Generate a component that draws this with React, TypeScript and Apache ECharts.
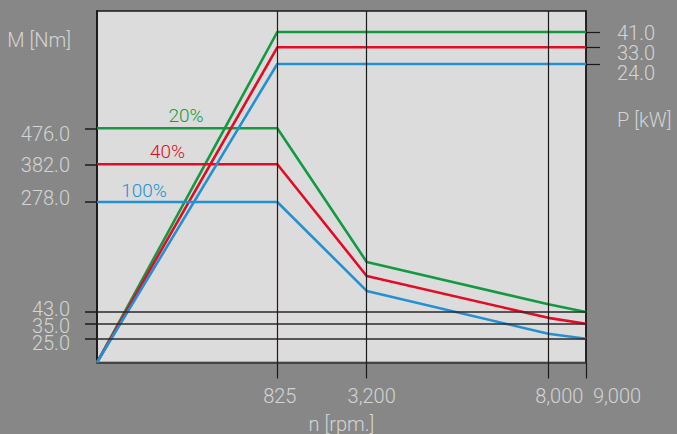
import React, { useEffect, useRef } from "react";
import * as echarts from "echarts";

// ---- data ----
const RPM = [0, 825, 3200, 8000, 9000];
const RPM_LABELS = ["0", "825", "3,200", "8,000", "9,000"];
const TORQUE_20 = [476, 476, 150, 59.5, 43];
const TORQUE_40 = [382, 382, 120, 39, 35];
const TORQUE_100 = [278, 278, 88, 28.3, 25];
const POWER_RPM = [0, 825, 9000];
const POWER_20 = [0, 41, 41];
const POWER_40 = [0, 33, 33];
const POWER_100 = [0, 24, 24];
const TORQUE_TICKS = [25, 35, 43, 278, 382, 476];
const POWER_TICKS = [24, 33, 41];
const TORQUE_GRID = [25, 35, 43];
const RPM_GRID = [825, 3200, 8000];
const SERIES_NAMES = ["20%", "40%", "100%"];

// ---- schematic (piecewise) axis transforms ----
const X_BREAKS = [0, 825, 3200, 8000, 9000];
const X_POS = [0, 180.3, 269.7, 451.3, 489];
const T_BREAKS = [0, 25, 35, 43, 278, 382, 476];
const T_POS = [0, 23.8, 38.8, 50.5, 160.5, 198.2, 234.2];
const P_BREAKS = [0, 24, 33, 41];
const P_POS = [0, 298.5, 315.2, 330.5];
const X_MAX = 489;
const Y_MAX = 351.5;

function interp(v: number, xs: number[], ys: number[]) {
  for (let i = 0; i < xs.length - 1; i++) {
    if (v <= xs[i + 1]) {
      const t = (v - xs[i]) / (xs[i + 1] - xs[i]);
      return ys[i] + t * (ys[i + 1] - ys[i]);
    }
  }
  return ys[ys.length - 1];
}
const xp = (rpm: number) => interp(rpm, X_BREAKS, X_POS);
const yt = (nm: number) => interp(nm, T_BREAKS, T_POS);
const yp = (kw: number) => interp(kw, P_BREAKS, P_POS);
const findIdx = (v: number, arr: number[]) => {
  let best = 0;
  for (let i = 0; i < arr.length; i++) if (Math.abs(arr[i] - v) < Math.abs(arr[best] - v)) best = i;
  return best;
};

const GREEN = "#139a40";
const RED = "#e30b25";
const BLUE = "#2291d1";
const COLORS = [GREEN, RED, BLUE];
const TEXT = "#d4d4d4";
const FONT = "Roboto";

const X_SHIFT = [0, 5, 10, 22, 62];
const T_SHIFT = [8, 4, -7, -8, 2, 12];
const P_SHIFT = [18, 11, 2];
const shiftPad = (s: number) => (s >= 0 ? [s, 0, 0, 0] : [0, 0, -s, 0]);

export default function App() {
  const ref = useRef<HTMLDivElement>(null);
  useEffect(() => {
    document.body.style.margin = "0";
    const chart = echarts.init(ref.current!, null, { renderer: "svg" });
    const torque = [TORQUE_20, TORQUE_40, TORQUE_100];
    const power = [POWER_20, POWER_40, POWER_100];
    const labelRpm = [407, 323, 215];
    const labelOffset = [-13, -13, -12];

    const xRich: any = {};
    X_SHIFT.forEach((s, i) => {
      xRich["x" + i] = { padding: [0, 0, 0, s], fontSize: 20, color: TEXT, fontFamily: FONT, fontWeight: 300 };
    });
    const tRich: any = {};
    T_SHIFT.forEach((s, i) => {
      tRich["t" + i] = { padding: shiftPad(s), fontSize: 20, color: TEXT, fontFamily: FONT, fontWeight: 300 };
    });
    const pRich: any = {};
    P_SHIFT.forEach((s, i) => {
      pRich["p" + i] = { padding: shiftPad(s), fontSize: 20, color: TEXT, fontFamily: FONT, fontWeight: 300 };
    });

    const series: any[] = [
      {
        type: "line",
        z: 1,
        silent: true,
        data: [[0, 0]],
        symbol: "none",
        lineStyle: { opacity: 0 },
        markLine: {
          silent: true,
          symbol: ["none", "none"],
          label: { show: false },
          data: [
            ...TORQUE_GRID.map((v) => ({ yAxis: yt(v), lineStyle: { color: "#2a2a2a", width: 1.5, type: "solid" } })),
            ...RPM_GRID.map((r, i) => ({
              xAxis: xp(r),
              lineStyle: { color: i === 0 ? "#3a1212" : "#1a1a1a", width: 1.2, type: "solid" },
            })),
          ],
        },
      },
    ];
    for (let k = 0; k < 3; k++) {
      series.push({
        type: "line",
        name: SERIES_NAMES[k] + " M",
        z: 3,
        symbol: "none",
        data: RPM.map((r, i) => [xp(r), yt(torque[k][i])]),
        lineStyle: { color: COLORS[k], width: 2.6 },
        markPoint: {
          symbol: "circle",
          symbolSize: 0,
          data: [{ coord: [xp(labelRpm[k]), yt(torque[k][0])] }],
          label: {
            show: true,
            position: "inside",
            formatter: SERIES_NAMES[k],
            color: COLORS[k],
            fontSize: 19,
            fontFamily: FONT,
            fontWeight: 300,
            offset: [0, labelOffset[k]],
          },
        },
      });
      series.push({
        type: "line",
        name: SERIES_NAMES[k] + " P",
        z: 3,
        symbol: "none",
        data: POWER_RPM.map((r, i) => [xp(r), yp(power[k][i])]),
        lineStyle: { color: COLORS[k], width: 2.6 },
      });
    }

    // torque labels split over two left axes so that the tightly packed labels are not hidden
    const torqueAxis = (ticks: number[], withName: boolean) => ({
      type: "value",
      min: 0,
      max: Y_MAX,
      position: "left",
      offset: 0,
      name: withName ? "M [Nm]" : "",
      nameLocation: "end",
      nameGap: -29,
      nameTextStyle: {
        color: TEXT,
        fontSize: 20,
        fontFamily: FONT,
        fontWeight: 300,
        align: "right",
        verticalAlign: "middle",
        padding: [0, 26, 0, 0],
      },
      axisLine: { show: true, lineStyle: { color: "#1a1a1a", width: 1.5 } },
      axisTick: {
        show: true,
        customValues: ticks.map(yt),
        length: 12,
        lineStyle: { color: "#1a1a1a", width: 1.5 },
      },
      axisLabel: {
        customValues: ticks.map(yt),
        margin: 27,
        hideOverlap: false,
        showMinLabel: true,
        showMaxLabel: true,
        formatter: (v: number) => {
          const i = findIdx(v, TORQUE_TICKS.map(yt));
          return `{t${i}|${TORQUE_TICKS[i].toFixed(1)}}`;
        },
        rich: tRich,
      },
      splitLine: { show: false },
    });

    chart.setOption({
      animation: false,
      backgroundColor: "#878787",
      grid: {
        left: 97,
        right: 91,
        top: 11,
        bottom: 71.5,
        outerBoundsMode: "none",
        containLabel: false,
        show: true,
        backgroundColor: "#dcdcdc",
        borderColor: "#1a1a1a",
        borderWidth: 1.5,
      },
      xAxis: {
        type: "value",
        min: 0,
        max: X_MAX,
        name: "n [rpm.]",
        nameLocation: "middle",
        nameGap: 61,
        nameTextStyle: { color: TEXT, fontSize: 20, fontFamily: FONT, fontWeight: 300, verticalAlign: "middle" },
        axisLine: { show: true, lineStyle: { color: "#444", width: 2 } },
        axisTick: {
          show: true,
          customValues: X_POS.slice(1),
          length: 16,
          lineStyle: { color: "#1a1a1a", width: 1.2 },
        },
        axisLabel: {
          customValues: X_POS.slice(1),
          margin: 23,
          hideOverlap: false,
          showMinLabel: true,
          showMaxLabel: true,
          formatter: (v: number) => {
            const i = findIdx(v, X_POS);
            return `{x${i}|${RPM_LABELS[i]}}`;
          },
          rich: xRich,
        },
        splitLine: { show: false },
      },
      yAxis: [
        torqueAxis(TORQUE_TICKS.filter((t) => t !== 35), true),
        {
          type: "value",
          min: 0,
          max: Y_MAX,
          position: "right",
          name: "P [kW]",
          nameLocation: "end",
          nameGap: -109,
          nameTextStyle: {
            color: TEXT,
            fontSize: 20,
            fontFamily: FONT,
            fontWeight: 300,
            align: "left",
            verticalAlign: "middle",
            padding: [0, 0, 0, 31],
          },
          axisLine: { show: true, lineStyle: { color: "#1a1a1a", width: 1.5 } },
          axisTick: {
            show: true,
            customValues: POWER_TICKS.map(yp),
            length: 14,
            lineStyle: { color: "#1a1a1a", width: 1.2 },
          },
          axisLabel: {
            customValues: POWER_TICKS.map(yp),
            margin: 31,
            hideOverlap: false,
            showMinLabel: true,
            showMaxLabel: true,
            formatter: (v: number) => {
              const i = findIdx(v, POWER_TICKS.map(yp));
              return `{p${i}|${POWER_TICKS[i].toFixed(1)}}`;
            },
            rich: pRich,
          },
          splitLine: { show: false },
        },
        torqueAxis([35], false),
      ],
      series,
    });
    return () => chart.dispose();
  }, []);
  return <div ref={ref} style={{ position: "absolute", left: 0, top: 0, width: 677, height: 434 }} />;
}
